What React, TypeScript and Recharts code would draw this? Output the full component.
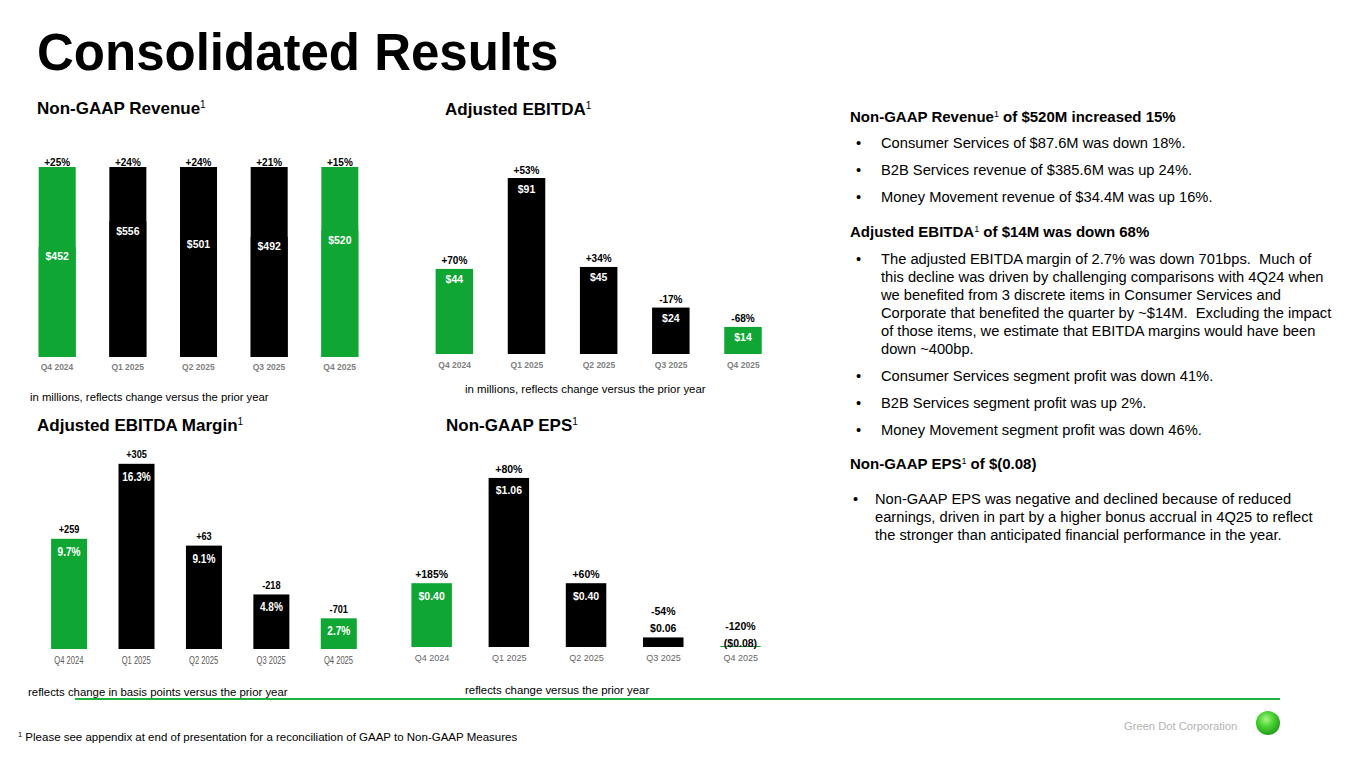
import React from 'react';
import { BarChart, Bar, XAxis, YAxis, LabelList, Cell } from 'recharts';

const QUARTERS = ['Q4 2024', 'Q1 2025', 'Q2 2025', 'Q3 2025', 'Q4 2025'];
const REVENUE = [452, 556, 501, 492, 520];
const REVENUE_CHANGE = ['+25%', '+24%', '+24%', '+21%', '+15%'];
const EBITDA = [44, 91, 45, 24, 14];
const EBITDA_CHANGE = ['+70%', '+53%', '+34%', '-17%', '-68%'];
const MARGIN = [9.7, 16.3, 9.1, 4.8, 2.7];
const MARGIN_CHANGE = ['+259', '+305', '+63', '-218', '-701'];
const EPS = [0.4, 1.06, 0.4, 0.06, -0.08];
const EPS_CHANGE = ['+185%', '+80%', '+60%', '-54%', '-120%'];

const GREEN = '#0fa634';
const BLACK = '#000000';
const BAR_COLORS = [GREEN, BLACK, BLACK, BLACK, GREEN];
const SANS = '"Liberation Sans", Arial, Helvetica, sans-serif';

type PanelProps = {
  left: number; top: number; width: number; height: number;
  margin: { top: number; right: number; bottom: number; left: number };
  domain: [number, number];
  values: number[];
  changes: string[];
  fmt: (v: number) => string;
  barSize: number;
  fullColumn?: boolean;
  labelSize: number;
  valueSize: number;
  pctScale?: number;
  valueScale?: number;
  pctGap: number;
  valueGap: number;
  tickMargin: number;
  tick: any;
};

function SText({ x, y, sx = 1, size, fill, children }: { x: number; y: number; sx?: number; size: number; fill: string; children: any }) {
  return (
    <text
      transform={`translate(${x},${y}) scale(${sx},1)`}
      x={0}
      y={0}
      textAnchor="middle"
      fontFamily={SANS}
      fontWeight="bold"
      fontSize={size}
      fill={fill}
    >
      {children}
    </text>
  );
}

function BarPanel(p: PanelProps) {
  const data = QUARTERS.map((q, i) => ({ q, v: p.values[i], c: p.changes[i] }));
  const ps = p.pctScale ?? 1;
  const vs = p.valueScale ?? 1;

  const renderLabel = (lp: any) => {
    const vb = lp.viewBox && lp.viewBox.width !== undefined ? lp.viewBox : lp;
    const x = Number(vb.x), y = Number(vb.y), w = Number(vb.width), h = Number(vb.height);
    const idx = lp.index;
    const val = p.values[idx];
    const top = Math.min(y, y + h);
    const cx = x + w / 2;
    const small = val < 0 || Math.abs(h) < 20;
    if (small) {
      const vBase = val < 0 ? top - 0.5 : top - 5.5;
      return (
        <g>
          <SText x={cx} y={vBase} sx={vs} size={p.valueSize} fill="#000">{p.fmt(val)}</SText>
          {!p.fullColumn && <SText x={cx} y={vBase - 17} sx={ps} size={p.labelSize} fill="#000">{p.changes[idx]}</SText>}
        </g>
      );
    }
    return (
      <g>
        <SText x={cx} y={top + p.valueGap} sx={vs} size={p.valueSize} fill="#fff">{p.fmt(val)}</SText>
        {!p.fullColumn && <SText x={cx} y={top - p.pctGap} sx={ps} size={p.labelSize} fill="#000">{p.changes[idx]}</SText>}
      </g>
    );
  };

  const renderBackground = (bp: any) => {
    const idx = bp.index ?? 0;
    return (
      <g>
        <rect x={bp.x} y={bp.y} width={bp.width} height={bp.height} fill={BAR_COLORS[idx]} />
        <SText x={bp.x + bp.width / 2} y={bp.y - 1.5} sx={ps} size={p.labelSize} fill="#000">{p.changes[idx]}</SText>
      </g>
    );
  };

  const renderShape = (sp: any) => {
    const idx = sp.index ?? 0;
    const val = p.values[idx];
    const y = Number(sp.y), h = Number(sp.height);
    if (val < 0) {
      const zero = Math.min(y, y + h);
      return <rect x={sp.x} y={zero - 1} width={sp.width} height={1.6} fill={BAR_COLORS[idx]} />;
    }
    return <rect x={sp.x} y={Math.min(y, y + h)} width={sp.width} height={Math.abs(h)} fill={BAR_COLORS[idx]} />;
  };

  return (
    <div style={{ position: 'absolute', left: p.left, top: p.top, width: p.width, height: p.height }}>
      <BarChart width={p.width} height={p.height} data={data} margin={p.margin} barSize={p.barSize}>
        <XAxis
          dataKey="q"
          axisLine={false}
          tickLine={false}
          tickSize={0}
          tickMargin={p.tickMargin}
          interval={0}
          height={20}
          tick={p.tick}
        />
        <YAxis hide domain={p.domain} allowDataOverflow />
        <Bar
          dataKey="v"
          isAnimationActive={false}
          shape={renderShape}
          background={p.fullColumn ? renderBackground : undefined}
        >
          {data.map((d, i) => (
            <Cell key={d.q} fill={BAR_COLORS[i]} />
          ))}
          <LabelList dataKey="v" content={renderLabel} />
        </Bar>
      </BarChart>
    </div>
  );
}

const NarrowTick = (tp: any) => (
  <text
    transform={`translate(${tp.x},${tp.y}) scale(0.76,1)`}
    x={0}
    y={0}
    dy="0.71em"
    textAnchor="middle"
    fontFamily={SANS}
    fontSize={10}
    fill="#595959"
  >
    {tp.payload.value}
  </text>
);

const BODY = 14.7;
const HEAD = 15;

export default function App() {
  const boldTick = { fill: '#7f7f7f', fontSize: 8.5, fontWeight: 'bold', fontFamily: SANS };
  const plainTick = { fill: '#666666', fontSize: 9, fontFamily: SANS };

  const bodyLines: [number, string, boolean][] = [
    [148, 'Consumer Services of $87.6M was down 18%.', true],
    [175, 'B2B Services revenue of $385.6M was up 24%.', true],
    [202, 'Money Movement revenue of $34.4M was up 16%.', true],
    [264, 'The adjusted EBITDA margin of 2.7% was down 701bps.  Much of', true],
    [282, 'this decline was driven by challenging comparisons with 4Q24 when', false],
    [300, 'we benefited from 3 discrete items in Consumer Services and', false],
    [318, 'Corporate that benefited the quarter by ~$14M.  Excluding the impact', false],
    [336, 'of those items, we estimate that EBITDA margins would have been', false],
    [354, 'down ~400bp.', false],
    [381, 'Consumer Services segment profit was down 41%.', true],
    [408, 'B2B Services segment profit was up 2%.', true],
    [435, 'Money Movement segment profit was down 46%.', true],
  ];
  const epsLines: [number, string, boolean][] = [
    [504, 'Non-GAAP EPS was negative and declined because of reduced', true],
    [522, 'earnings, driven in part by a higher bonus accrual in 4Q25 to reflect', false],
    [540, 'the stronger than anticipated financial performance in the year.', false],
  ];

  return (
    <div style={{ position: 'absolute', left: 0, top: 0, width: 1365, height: 768, background: '#fff', overflow: 'hidden' }}>
      <svg width={1365} height={768} style={{ position: 'absolute', left: 0, top: 0 }} fontFamily={SANS}>
        <defs>
          <radialGradient id="dot" cx="42%" cy="35%" r="65%">
            <stop offset="0%" stopColor="#a8f58a" />
            <stop offset="45%" stopColor="#4fd636" />
            <stop offset="100%" stopColor="#1f9e1c" />
          </radialGradient>
        </defs>
        <text x={37} y={70} fontSize={51} fontWeight="bold" fill="#000">Consolidated Results</text>

        <text x={37} y={114} fontSize={17} fontWeight="bold" fill="#000">
          <tspan>Non-GAAP Revenue</tspan>
          <tspan fontSize={10} fontWeight="normal" dy={-6}>1</tspan>
        </text>
        <text x={445} y={114.5} fontSize={17} fontWeight="bold" fill="#000">
          <tspan>Adjusted EBITDA</tspan>
          <tspan fontSize={10} fontWeight="normal" dy={-6}>1</tspan>
        </text>
        <text x={37} y={431} fontSize={17} fontWeight="bold" fill="#000">
          <tspan>Adjusted EBITDA Margin</tspan>
          <tspan fontSize={10} fontWeight="normal" dy={-6}>1</tspan>
        </text>
        <text x={446} y={431} fontSize={17} fontWeight="bold" fill="#000">
          <tspan>Non-GAAP EPS</tspan>
          <tspan fontSize={10} fontWeight="normal" dy={-6}>1</tspan>
        </text>

        <text x={30} y={401} fontSize={11.3} fill="#000">in millions, reflects change versus the prior year</text>
        <text x={465} y={393} fontSize={11.4} fill="#000">in millions, reflects change versus the prior year</text>
        <text x={28} y={695.5} fontSize={11.4} fill="#000">reflects change in basis points versus the prior year</text>
        <text x={465} y={694} fontSize={11.4} fill="#000">reflects change versus the prior year</text>

        <line x1={75} y1={699} x2={1280} y2={699} stroke="#22b03f" strokeWidth={2} />

        <text x={18} y={741} fontSize={11.5} fill="#000" style={{ whiteSpace: 'pre' }}>
          <tspan fontSize={7.5} dy={-4}>1</tspan>
          <tspan dy={4}> Please see appendix at end of presentation for a reconciliation of GAAP to Non-GAAP Measures</tspan>
        </text>
        <text x={1124} y={729.5} fontSize={11.2} fill="#b3b3b3">Green Dot Corporation</text>
        <circle cx={1268} cy={723} r={12} fill="url(#dot)" />

        <text x={850} y={122} fontSize={HEAD} fontWeight="bold" fill="#000">
          <tspan>Non-GAAP Revenue</tspan>
          <tspan fontSize={9} fontWeight="normal" dy={-5}>1</tspan>
          <tspan dy={5}> of $520M increased 15%</tspan>
        </text>
        <text x={850} y={237} fontSize={HEAD} fontWeight="bold" fill="#000">
          <tspan>Adjusted EBITDA</tspan>
          <tspan fontSize={9} fontWeight="normal" dy={-5}>1</tspan>
          <tspan dy={5}> of $14M was down 68%</tspan>
        </text>
        <text x={850} y={469} fontSize={HEAD} fontWeight="bold" fill="#000">
          <tspan>Non-GAAP EPS</tspan>
          <tspan fontSize={9} fontWeight="normal" dy={-5}>1</tspan>
          <tspan dy={5}> of $(0.08)</tspan>
        </text>

        {bodyLines.map(([y, t, b]) => (
          <g key={y}>
            {b && <text x={856} y={y} fontSize={BODY} fill="#000">•</text>}
            <text x={881} y={y} fontSize={BODY} fill="#000" style={{ whiteSpace: 'pre' }}>{t}</text>
          </g>
        ))}
        {epsLines.map(([y, t, b]) => (
          <g key={y}>
            {b && <text x={853} y={y} fontSize={BODY} fill="#000">•</text>}
            <text x={875} y={y} fontSize={BODY} fill="#000" style={{ whiteSpace: 'pre' }}>{t}</text>
          </g>
        ))}
      </svg>

      <BarPanel
        left={0} top={140} width={390} height={240}
        margin={{ top: 27, right: 15, bottom: 3, left: 21.7 }}
        domain={[0, 778]}
        values={REVENUE} changes={REVENUE_CHANGE}
        fmt={(v) => `$${v}`}
        barSize={37}
        fullColumn
        labelSize={10} valueSize={10.5}
        pctGap={4} valueGap={13.5}
        tickMargin={7} tick={boldTick}
      />
      <BarPanel
        left={400} top={130} width={395} height={250}
        margin={{ top: 30.6, right: 15.6, bottom: 6, left: 18.6 }}
        domain={[0, 100]}
        values={EBITDA} changes={EBITDA_CHANGE}
        fmt={(v) => `$${v}`}
        barSize={37.5}
        labelSize={10} valueSize={10.5}
        pctGap={4.5} valueGap={14.5}
        tickMargin={8} tick={boldTick}
      />
      <BarPanel
        left={20} top={430} width={370} height={245}
        margin={{ top: 14.5, right: 17.8, bottom: 6, left: 15.1 }}
        domain={[0, 18]}
        values={MARGIN} changes={MARGIN_CHANGE}
        fmt={(v) => `${v.toFixed(1)}%`}
        barSize={36}
        labelSize={11.5} valueSize={12}
        pctScale={0.8} valueScale={0.84}
        pctGap={5.5} valueGap={17}
        tickMargin={8} tick={<NarrowTick />}
      />
      <BarPanel
        left={380} top={440} width={400} height={235}
        margin={{ top: 15.6, right: 0.6, bottom: 8, left: 13.4 }}
        domain={[0, 1.2]}
        values={EPS} changes={EPS_CHANGE}
        fmt={(v) => (v < 0 ? `($${Math.abs(v).toFixed(2)})` : `$${v.toFixed(2)}`)}
        barSize={40.5}
        labelSize={10.5} valueSize={10.5}
        pctGap={4.8} valueGap={16.4}
        tickMargin={8} tick={plainTick}
      />
</div>
  );
}
